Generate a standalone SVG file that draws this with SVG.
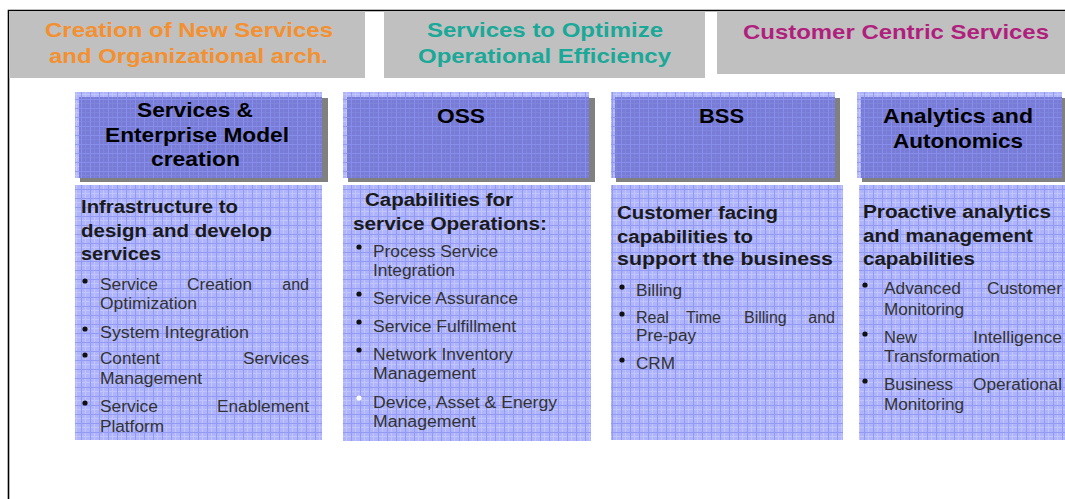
<svg xmlns="http://www.w3.org/2000/svg" width="1065" height="499" viewBox="0 0 1065 499">
<defs>
<pattern id="gl" width="9" height="9" patternUnits="userSpaceOnUse">
<rect width="9" height="9" fill="#afb4fb"/>
<path d="M0 4.5H9M4.5 0V9" stroke="#c0c5fc" stroke-width="1"/>
<path d="M0 0.5H9M0.5 0V9" stroke="#929af3" stroke-width="1"/>
</pattern>
<pattern id="gd" width="9" height="9" patternUnits="userSpaceOnUse">
<rect width="9" height="9" fill="#787cd7"/>
<path d="M0 4.5H9M4.5 0V9" stroke="#7f84db" stroke-width="1"/>
<path d="M0 0.5H9M0.5 0V9" stroke="#878dea" stroke-width="1"/>
</pattern>
<style>
.hd{font-family:"Liberation Sans",Arial,sans-serif;font-weight:bold;font-size:21px;text-anchor:start}
.tt{font-family:"Liberation Sans",Arial,sans-serif;font-weight:bold;font-size:21px;fill:#000}
.bh{font-family:"Liberation Sans",Arial,sans-serif;font-weight:bold;font-size:17.5px;fill:#1a1a1a}
.bt{font-family:"Liberation Sans",Arial,sans-serif;font-size:16px;fill:#333}
.end{text-anchor:end}
.shadow{fill:#808080}
.light{fill:url(#gl)}
.dark{fill:url(#gd)}
.hbox{fill:#c0c0c0}
.dot{fill:#111}
</style>
</defs>
<rect width="1065" height="499" fill="#fff"/>
<path d="M8.5 499V10.5H1065" fill="none" stroke="#000" stroke-width="1.6"/>

<g id="header-creation">
<rect class="hbox" x="9" y="11" width="356" height="67"/>
<text class="hd" fill="#f4902f" x="45" y="37" textLength="288" lengthAdjust="spacingAndGlyphs">Creation of New Services</text>
<text class="hd" fill="#f4902f" x="49" y="63" textLength="279" lengthAdjust="spacingAndGlyphs">and Organizational arch.</text>
</g>
<g id="header-efficiency">
<rect class="hbox" x="384" y="11" width="321" height="67"/>
<text class="hd" fill="#1aa898" x="427" y="37" textLength="236" lengthAdjust="spacingAndGlyphs">Services to Optimize</text>
<text class="hd" fill="#1aa898" x="418" y="63" textLength="253" lengthAdjust="spacingAndGlyphs">Operational Efficiency</text>
</g>
<g id="header-customer">
<rect class="hbox" x="717" y="11" width="348" height="63"/>
<text class="hd" fill="#b01f7e" x="743" y="39" textLength="306" lengthAdjust="spacingAndGlyphs">Customer Centric Services</text>
</g>

<g id="title-services">
<rect class="shadow" x="80" y="98" width="248" height="84"/>
<rect class="light" x="75" y="92" width="247" height="86"/>
<rect class="dark" x="79" y="97" width="243" height="81"/>
<text class="tt" x="137" y="117" textLength="116" lengthAdjust="spacingAndGlyphs">Services &amp;</text>
<text class="tt" x="105" y="142" textLength="184" lengthAdjust="spacingAndGlyphs">Enterprise Model</text>
<text class="tt" x="151" y="166" textLength="89" lengthAdjust="spacingAndGlyphs">creation</text>
</g>
<g id="title-oss">
<rect class="shadow" x="348" y="98" width="247" height="84"/>
<rect class="light" x="343" y="92" width="246" height="86"/>
<rect class="dark" x="347" y="97" width="242" height="81"/>
<text class="tt" x="437" y="123" textLength="48" lengthAdjust="spacingAndGlyphs">OSS</text>
</g>
<g id="title-bss">
<rect class="shadow" x="616" y="98" width="224" height="84"/>
<rect class="light" x="611" y="92" width="224" height="86"/>
<rect class="dark" x="615" y="97" width="220" height="81"/>
<text class="tt" x="699" y="123" textLength="45" lengthAdjust="spacingAndGlyphs">BSS</text>
</g>
<g id="title-analytics">
<rect class="shadow" x="862" y="98" width="205" height="84"/>
<rect class="light" x="857" y="92" width="205" height="86"/>
<rect class="dark" x="861" y="97" width="201" height="81"/>
<text class="tt" x="883" y="123" textLength="150" lengthAdjust="spacingAndGlyphs">Analytics and</text>
<text class="tt" x="893" y="148" textLength="130" lengthAdjust="spacingAndGlyphs">Autonomics</text>
</g>

<g id="body-infrastructure">
<rect class="light" x="75" y="185" width="247" height="255"/>
<text class="bh" x="81" y="213" textLength="157" lengthAdjust="spacingAndGlyphs">Infrastructure to</text>
<text class="bh" x="81" y="237" textLength="191" lengthAdjust="spacingAndGlyphs">design and develop</text>
<text class="bh" x="81" y="260" textLength="80" lengthAdjust="spacingAndGlyphs">services</text>
<circle class="dot" cx="85" cy="281" r="2.6"/>
<text class="bt" x="100" y="290" textLength="58" lengthAdjust="spacingAndGlyphs">Service</text>
<text class="bt" x="187" y="290" textLength="65" lengthAdjust="spacingAndGlyphs">Creation</text>
<text class="bt end" x="309" y="290">and</text>
<text class="bt" x="100" y="309" textLength="97" lengthAdjust="spacingAndGlyphs">Optimization</text>
<circle class="dot" cx="85" cy="329" r="2.6"/>
<text class="bt" x="100" y="338" textLength="149" lengthAdjust="spacingAndGlyphs">System  Integration</text>
<circle class="dot" cx="85" cy="355" r="2.6"/>
<text class="bt" x="100" y="364" textLength="60" lengthAdjust="spacingAndGlyphs">Content</text>
<text class="bt" x="243" y="364" textLength="66" lengthAdjust="spacingAndGlyphs">Services</text>
<text class="bt" x="100" y="384" textLength="102" lengthAdjust="spacingAndGlyphs">Management</text>
<circle class="dot" cx="85" cy="403" r="2.6"/>
<text class="bt" x="100" y="412" textLength="58" lengthAdjust="spacingAndGlyphs">Service</text>
<text class="bt" x="217" y="412" textLength="92" lengthAdjust="spacingAndGlyphs">Enablement</text>
<text class="bt" x="100" y="432" textLength="64" lengthAdjust="spacingAndGlyphs">Platform</text>
</g>

<g id="body-oss">
<rect class="light" x="343" y="185" width="248" height="256"/>
<text class="bh" x="365" y="206" textLength="148" lengthAdjust="spacingAndGlyphs">Capabilities for</text>
<text class="bh" x="353" y="230" textLength="194" lengthAdjust="spacingAndGlyphs">service Operations:</text>
<circle class="dot" cx="359" cy="247" r="2.6"/>
<text class="bt" x="373" y="257" textLength="125" lengthAdjust="spacingAndGlyphs">Process Service</text>
<text class="bt" x="373" y="276" textLength="82" lengthAdjust="spacingAndGlyphs">Integration</text>
<circle class="dot" cx="359" cy="294" r="2.6"/>
<text class="bt" x="373" y="304" textLength="145" lengthAdjust="spacingAndGlyphs">Service Assurance</text>
<circle class="dot" cx="359" cy="322" r="2.6"/>
<text class="bt" x="373" y="332" textLength="143" lengthAdjust="spacingAndGlyphs">Service Fulfillment</text>
<circle class="dot" cx="359" cy="350" r="2.6"/>
<text class="bt" x="373" y="360" textLength="140" lengthAdjust="spacingAndGlyphs">Network Inventory</text>
<text class="bt" x="373" y="379" textLength="103" lengthAdjust="spacingAndGlyphs">Management</text>
<circle cx="359" cy="398" r="2.6" fill="#fff"/>
<text class="bt" x="373" y="408" textLength="184" lengthAdjust="spacingAndGlyphs">Device, Asset &amp; Energy</text>
<text class="bt" x="373" y="427" textLength="103" lengthAdjust="spacingAndGlyphs">Management</text>
</g>

<g id="body-bss">
<rect class="light" x="611" y="185" width="232" height="255"/>
<text class="bh" x="617" y="219" textLength="161" lengthAdjust="spacingAndGlyphs">Customer facing</text>
<text class="bh" x="617" y="243" textLength="136" lengthAdjust="spacingAndGlyphs">capabilities to</text>
<text class="bh" x="617" y="265" textLength="216" lengthAdjust="spacingAndGlyphs">support the business</text>
<circle class="dot" cx="622" cy="287" r="2.6"/>
<text class="bt" x="636" y="296" textLength="46" lengthAdjust="spacingAndGlyphs">Billing</text>
<circle class="dot" cx="622" cy="314" r="2.6"/>
<text class="bt" x="636" y="323">Real</text>
<text class="bt" x="686" y="323">Time</text>
<text class="bt" x="744" y="323">Billing</text>
<text class="bt end" x="835" y="323">and</text>
<text class="bt" x="636" y="341" textLength="60" lengthAdjust="spacingAndGlyphs">Pre-pay</text>
<circle class="dot" cx="622" cy="360" r="2.6"/>
<text class="bt" x="636" y="369" textLength="39" lengthAdjust="spacingAndGlyphs">CRM</text>
</g>

<g id="body-analytics">
<rect class="light" x="859" y="185" width="206" height="255"/>
<text class="bh" x="863" y="218" textLength="188" lengthAdjust="spacingAndGlyphs">Proactive analytics</text>
<text class="bh" x="863" y="242" textLength="170" lengthAdjust="spacingAndGlyphs">and management</text>
<text class="bh" x="863" y="265" textLength="112" lengthAdjust="spacingAndGlyphs">capabilities</text>
<circle class="dot" cx="865" cy="285" r="2.6"/>
<text class="bt" x="884" y="294" textLength="77" lengthAdjust="spacingAndGlyphs">Advanced</text>
<text class="bt" x="987" y="294" textLength="75" lengthAdjust="spacingAndGlyphs">Customer</text>
<text class="bt" x="884" y="315" textLength="80" lengthAdjust="spacingAndGlyphs">Monitoring</text>
<circle class="dot" cx="865" cy="334" r="2.6"/>
<text class="bt" x="884" y="343" textLength="33" lengthAdjust="spacingAndGlyphs">New</text>
<text class="bt" x="973" y="343" textLength="89" lengthAdjust="spacingAndGlyphs">Intelligence</text>
<text class="bt" x="884" y="362" textLength="116" lengthAdjust="spacingAndGlyphs">Transformation</text>
<circle class="dot" cx="865" cy="381" r="2.6"/>
<text class="bt" x="884" y="390" textLength="69" lengthAdjust="spacingAndGlyphs">Business</text>
<text class="bt" x="973" y="390" textLength="89" lengthAdjust="spacingAndGlyphs">Operational</text>
<text class="bt" x="884" y="410" textLength="80" lengthAdjust="spacingAndGlyphs">Monitoring</text>
</g>

<g id="connectors"/>
</svg>
